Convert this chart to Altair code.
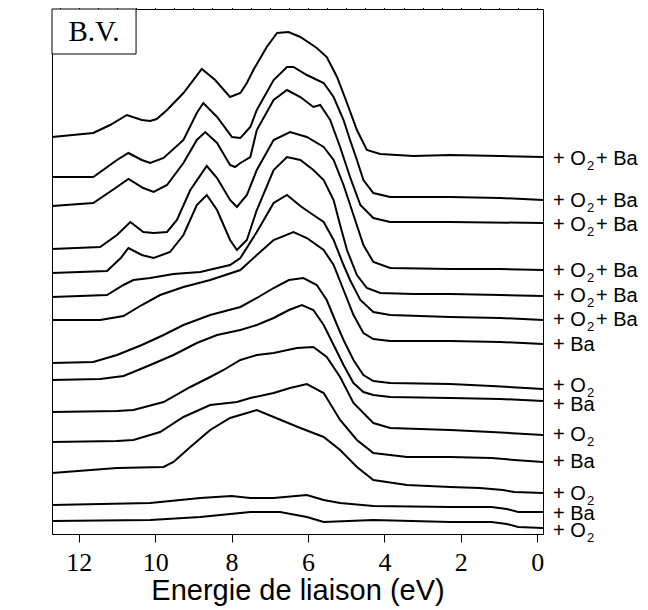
import altair as alt
import pandas as pd

# Binding energy (eV) and intensity (a.u.), top curve first
E1 = [12.7, 11.62, 11.18, 10.74, 10.35, 10.13, 9.96, 9.69, 9.26, 8.78, 8.43, 8.04, 7.77, 7.60, 7.43, 7.08, 6.81, 6.51, 6.20, 5.77, 5.51, 5.24, 4.98, 4.72, 4.46, 4.11, 3.24, 2.28, 0.97, -0.15]
I1 = [397, 401, 409, 419, 414, 413, 415, 424, 441, 465, 454, 437, 441, 451, 464, 487, 501, 502, 497, 486, 477, 457, 431, 404, 384, 380, 378, 379, 378, 377]

E2 = [12.7, 11.62, 11.00, 10.70, 10.35, 10.13, 9.78, 9.26, 8.91, 8.74, 8.38, 7.99, 7.77, 7.51, 7.34, 6.90, 6.55, 6.38, 6.03, 5.59, 5.33, 5.07, 4.90, 4.72, 4.55, 4.29, 3.85, 3.24, 2.28, 0.97, -0.15]
I2 = [357, 357, 374, 381, 374, 371, 376, 394, 421, 431, 417, 397, 396, 407, 424, 454, 467, 467, 459, 451, 437, 414, 394, 374, 354, 341, 337, 337, 337, 336, 334]

E3 = [12.7, 11.62, 11.00, 10.70, 10.31, 10.04, 9.69, 9.26, 8.91, 8.69, 8.38, 8.04, 7.91, 7.77, 7.51, 7.34, 6.90, 6.55, 6.20, 5.86, 5.68, 5.42, 5.16, 4.90, 4.63, 4.29, 3.85, 2.28, -0.15]
I3 = [328, 331, 347, 355, 346, 342, 349, 371, 394, 402, 391, 369, 367, 371, 377, 404, 434, 444, 437, 427, 429, 414, 387, 357, 329, 316, 312, 312, 311]

E4 = [12.7, 11.44, 11.00, 10.65, 10.31, 10.04, 9.69, 9.43, 9.08, 8.65, 8.38, 8.04, 7.86, 7.60, 7.34, 6.90, 6.47, 6.03, 5.59, 5.33, 5.07, 4.81, 4.55, 4.29, 3.85, 2.28, 0.97, -0.15]
I4 = [285, 287, 299, 312, 302, 301, 302, 314, 344, 368, 356, 334, 327, 339, 364, 394, 402, 397, 387, 374, 349, 319, 289, 272, 266, 265, 265, 264]

E5 = [12.7, 11.26, 10.90, 10.70, 10.35, 10.04, 9.61, 9.26, 8.91, 8.65, 8.38, 8.04, 7.86, 7.60, 7.34, 6.90, 6.55, 6.20, 5.86, 5.59, 5.33, 5.16, 4.98, 4.72, 4.46, 4.11, 3.24, 2.28, 0.97, -0.15]
I5 = [261, 263, 276, 286, 279, 276, 282, 299, 329, 339, 324, 294, 284, 294, 324, 364, 377, 374, 364, 354, 334, 309, 284, 259, 246, 241, 240, 240, 239, 238]

E6 = [12.7, 11.26, 10.83, 10.57, 10.13, 9.52, 8.82, 8.04, 7.77, 7.34, 6.90, 6.55, 6.20, 5.86, 5.59, 5.33, 5.07, 4.90, 4.63, 4.29, 3.85, 2.28, 0.97, -0.15]
I6 = [237, 239, 249, 254, 256, 260, 262, 269, 276, 302, 331, 339, 328, 319, 312, 294, 269, 254, 234, 222, 219, 217, 216, 214]

E7 = [12.7, 11.44, 10.83, 10.35, 9.87, 9.26, 8.56, 7.77, 7.34, 6.90, 6.38, 6.03, 5.59, 5.33, 5.07, 4.81, 4.55, 4.29, 3.85, 2.28, 0.97, -0.15]
I7 = [214, 214, 218, 229, 239, 247, 254, 264, 279, 294, 302, 296, 284, 269, 244, 219, 201, 195, 193, 193, 192, 190]

E8 = [12.7, 11.62, 11.00, 10.35, 9.78, 9.26, 8.56, 7.77, 7.34, 6.90, 6.50, 6.12, 5.77, 5.51, 5.24, 5.07, 4.81, 4.55, 4.29, 3.85, 2.28, 1.20, -0.15]
I8 = [171, 172, 179, 189, 199, 209, 219, 227, 236, 246, 254, 256, 249, 234, 209, 194, 174, 159, 153, 151, 150, 148, 145]

E9 = [12.7, 11.44, 10.83, 10.57, 10.13, 9.52, 8.91, 8.38, 7.77, 7.34, 6.90, 6.50, 6.16, 5.86, 5.59, 5.33, 5.07, 4.81, 4.55, 4.29, 3.85, 2.28, 0.97, -0.15]
I9 = [154, 155, 158, 162, 169, 179, 191, 199, 204, 209, 216, 224, 229, 224, 209, 189, 169, 151, 142, 139, 137, 136, 135, 133]

E10 = [12.7, 11.00, 10.57, 9.78, 9.08, 8.56, 8.21, 7.77, 7.34, 6.90, 6.29, 5.86, 5.51, 5.16, 4.81, 4.29, 3.85, 2.28, 1.20, -0.15]
I10 = [122, 123, 124, 132, 147, 157, 164, 174, 179, 181, 186, 187, 177, 157, 131, 111, 106, 104, 102, 99]

E11 = [12.7, 11.00, 10.57, 9.87, 9.26, 8.56, 7.86, 7.51, 6.90, 6.47, 6.03, 5.59, 5.16, 4.72, 4.29, 3.41, 2.28, 1.20, 0.60, -0.15]
I11 = [92, 93, 94, 102, 117, 129, 132, 136, 141, 146, 150, 141, 114, 94, 81, 77, 77, 76, 74, 72]

E12 = [12.7, 11.00, 9.78, 9.52, 9.08, 8.56, 8.04, 7.51, 7.34, 6.90, 6.20, 5.59, 5.16, 4.72, 4.29, 3.41, 2.28, 1.50, 0.90, 0.60, -0.15]
I12 = [61, 66, 67, 72, 87, 104, 116, 122, 124, 117, 106, 97, 84, 67, 54, 49, 47, 46, 44, 42, 41]

E13 = [12.7, 10.13, 8.82, 8.00, 7.51, 6.90, 6.03, 5.59, 5.16, 4.29, 2.28, 1.20, 0.80, 0.50, -0.15]
I13 = [29, 31, 36, 38, 36, 36, 39, 34, 31, 28, 27, 27, 25, 22, 22]

E14 = [12.7, 10.13, 8.82, 7.51, 7.08, 6.73, 6.03, 5.59, 4.29, 2.28, 1.20, 0.80, 0.50, -0.15]
I14 = [13, 14, 17, 22, 22, 22, 17, 12, 14, 12, 12, 10, 7, 6]

CURVES = [(E1, I1), (E2, I2), (E3, I3), (E4, I4), (E5, I5), (E6, I6), (E7, I7),
          (E8, I8), (E9, I9), (E10, I10), (E11, I11), (E12, I12), (E13, I13), (E14, I14)]

# Right-hand labels
LABEL_I = [375, 333, 309, 263, 238, 214, 189, 148, 129, 99, 72, 40, 20, 3]
LABEL_MAIN = ["+ O"] * 6 + ["+ Ba", "+ O", "+ Ba", "+ O", "+ Ba", "+ O", "+ Ba", "+ O"]
LABEL_SUB = ["2"] * 6 + ["", "2", "", "2", "", "2", "", "2"]
LABEL_TAIL = ["+ Ba"] * 6 + [""] * 8

MAJOR_TICKS = [0, 2, 4, 6, 8, 10, 12]
MINOR_TICKS = [i * 0.5 for i in range(26)]

W, H = 491, 525

rows = []
for k, (E, I) in enumerate(CURVES):
    for e, v in zip(E, I):
        rows.append({"curve": k, "E": e, "I": v})
df = pd.DataFrame(rows)

lab = pd.DataFrame({"I": LABEL_I, "main": LABEL_MAIN, "sub": LABEL_SUB, "tail": LABEL_TAIL})

xscale = alt.Scale(domain=[12.7, -0.15], nice=False, zero=False)
yscale = alt.Scale(domain=[0, 525], nice=False, zero=False)

xaxis = alt.Axis(
    values=MAJOR_TICKS,
    format="d",
    title="Energie de liaison (eV)",
    grid=False,
    tickSize=8,
    tickColor="black",
    tickWidth=1,
    domainColor="black",
    labelFont="Liberation Serif",
    labelFontSize=26,
    labelColor="black",
    labelPadding=7,
    labelFlush=False,
    labelOverlap=False,
    titleFont="Liberation Sans",
    titleFontSize=29,
    titleFontWeight="normal",
    titleColor="black",
    titleY=42,
)
minor_axis = alt.Axis(
    values=MINOR_TICKS,
    labels=False,
    domain=False,
    grid=False,
    tickSize=8,
    tickColor="black",
    tickWidth=1,
    title=None,
)
yaxis = alt.Axis(
    labels=False,
    ticks=False,
    grid=False,
    domainColor="black",
    title="Intensité (u.a.)",
    titleFont="Liberation Sans",
    titleFontSize=29,
    titleFontWeight="normal",
    titleColor="black",
    titlePadding=12,
    titleY=284,
)

lines = alt.Chart(df).mark_line(color="black", strokeWidth=2).encode(
    x=alt.X("E:Q", scale=xscale, axis=xaxis),
    y=alt.Y("I:Q", scale=yscale, axis=yaxis),
    detail="curve:N",
    order="E:Q",
)

txt_kw = dict(align="left", baseline="middle", font="Liberation Sans", color="black")
main = alt.Chart(lab).mark_text(fontSize=20, dx=10, **txt_kw).encode(
    x=alt.value(W), y=alt.Y("I:Q", scale=yscale, axis=None), text="main:N")
sub = alt.Chart(lab).mark_text(fontSize=13, dx=44, dy=7, **txt_kw).encode(
    x=alt.value(W), y=alt.Y("I:Q", scale=yscale, axis=None), text="sub:N")
tail = alt.Chart(lab).mark_text(fontSize=20, dx=53, **txt_kw).encode(
    x=alt.value(W), y=alt.Y("I:Q", scale=yscale, axis=None), text="tail:N")

box_df = pd.DataFrame({"x": [12.7], "x2": [10.5], "y": [525], "y2": [480], "label": ["B.V."], "tx": [11.6], "ty": [502]})
box = alt.Chart(box_df).mark_rect(fill="white", stroke="black", strokeWidth=1).encode(
    x=alt.X("x:Q", scale=xscale, axis=minor_axis), x2="x2:Q",
    y=alt.Y("y:Q", scale=yscale, axis=None), y2="y2:Q")
box_txt = alt.Chart(box_df).mark_text(font="Liberation Serif", fontSize=29, color="black",
                                     align="center", baseline="middle").encode(
    x=alt.X("tx:Q", scale=xscale, axis=None), y=alt.Y("ty:Q", scale=yscale, axis=None), text="label:N")

chart = alt.layer(lines, box, box_txt, main, sub, tail).resolve_axis(x="independent").properties(
    width=W, height=H,
    padding={"left": 44, "top": 1, "right": 97, "bottom": 73},
    autosize="none",
).configure_view(stroke="black", strokeWidth=1)

chart.save("out.html", embed_options={"renderer": "svg", "actions": False})
